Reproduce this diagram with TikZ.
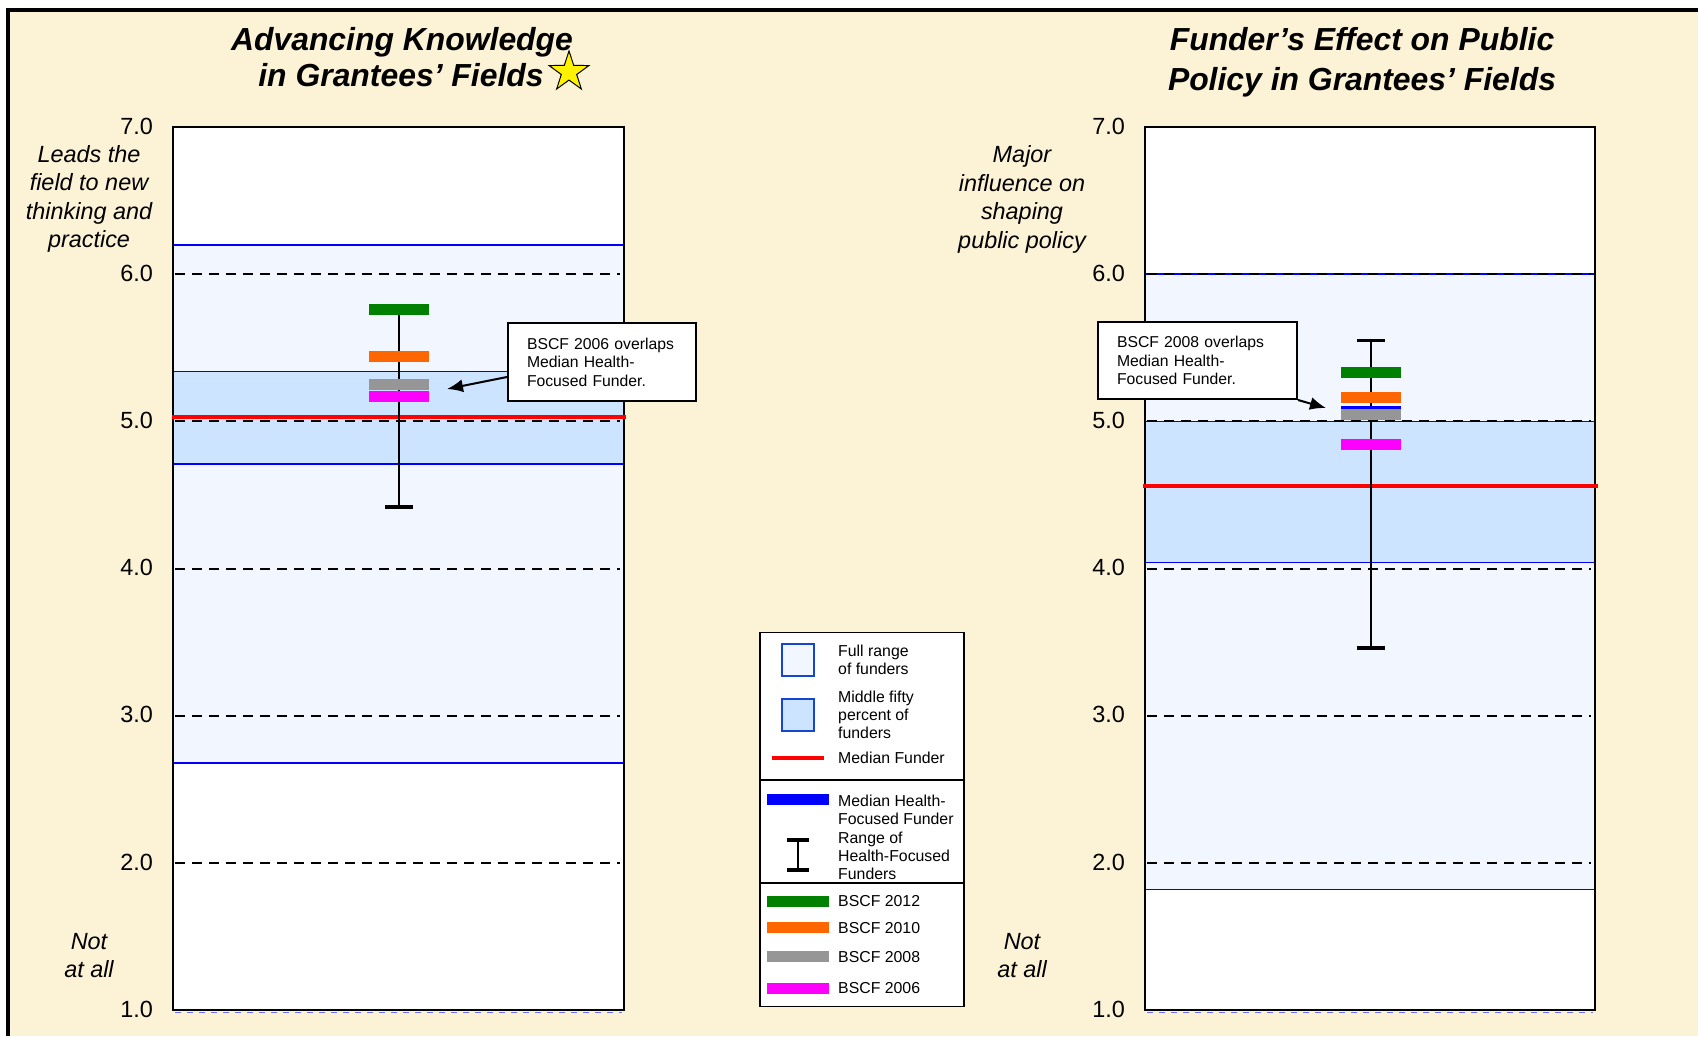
\documentclass[tikz,border=0pt]{standalone}
\usepackage{fontspec}
\setmainfont{Liberation Sans}
\usetikzlibrary{shapes.geometric,arrows.meta}
\definecolor{cream}{RGB}{252,242,214}
\definecolor{fullband}{RGB}{242,247,255}
\definecolor{midband}{RGB}{204,228,255}
\definecolor{bscfgreen}{RGB}{0,128,0}
\definecolor{bscforange}{RGB}{255,102,0}
\definecolor{bscfgray}{RGB}{150,150,150}
\definecolor{bscfmagenta}{RGB}{255,0,255}
\definecolor{legblue}{RGB}{20,70,210}
\definecolor{dashblue}{RGB}{110,110,255}
% score value -> vertical position (7.0 at top, 1.0 at bottom)
\newcommand{\vy}[1]{(127+(7-(#1))*147.2)}
\begin{document}
\begin{tikzpicture}[x=1bp,y=-1bp,
  ticklabel/.style={anchor=east, inner sep=0, font=\fontsize{23.5}{28}\selectfont},
  % multi-line notes are placed by the baseline of their last line
  sidenote/.style={anchor=base, inner sep=0, align=center, font=\fontsize{23.5}{28.5}\selectfont\itshape},
  charttitle/.style={anchor=base, inner sep=0, font=\fontsize{32}{38}\selectfont\bfseries\itshape},
  plotframe/.style={draw=black, line width=2.5},
  gridline/.style={line width=2, dash pattern=on 10bp off 7bp},
  bottomdash/.style={dashblue, line width=1.5, dash pattern=on 6bp off 6bp},
  bandline/.style={blue, line width=1.5},
  medianline/.style={red, line width=4.5},
  errbar/.style={line width=2},
  errcap/.style={line width=3.5},
  scorebar/.style={minimum width=60bp, minimum height=11bp, inner sep=0, draw=none},
  callout/.style={draw=black, fill=white, line width=2, align=left, inner xsep=19bp, inner ysep=0, font=\fontsize{15.8}{18.6}\selectfont},
  pointer/.style={line width=2, -{Latex[length=16bp,width=13bp]}},
  legtext/.style={anchor=base west, inner sep=0, align=left, font=\fontsize{15.9}{18}\selectfont},
  legsquare/.style={draw=legblue, line width=1.8, minimum size=32bp, inner sep=0},
  legbar/.style={minimum width=62bp, minimum height=11bp, inner sep=0, draw=none},
]
\useasboundingbox (0,0) rectangle (1698,1036);
% page background and frame
\fill[white] (0,0) rectangle (1698,1036);
\fill[cream] (8,10) rectangle (1698,1036);
\draw[line width=5] (8,1036) -- (8,10) -- (1698,10);

% ---------------- titles ----------------
\node[charttitle] (t1a) at (402,50) {Advancing Knowledge};
\node[charttitle] (t1b) at (401,86) {in Grantees’ Fields};
\node[star, star points=5, star point ratio=2.6, minimum size=42bp, inner sep=0,
      fill=yellow, draw=black, line width=1] (star) at (569,72) {};
\node[charttitle] (t2a) at (1362,50) {Funder’s Effect on Public};
\node[charttitle] (t2b) at (1362,90) {Policy in Grantees’ Fields};

% ---------------- left panel ----------------
\fill[white] (173,{\vy{7}}) rectangle (624,{\vy{1}});
\fill[fullband] (173,{\vy{6.2}}) rectangle (624,{\vy{2.68}});
\fill[midband] (173,{\vy{5.34}}) rectangle (624,{\vy{4.71}});
\foreach \v in {6.2,5.34,4.71,2.68}
  \draw[bandline] (173,{\vy{\v}}) -- (624,{\vy{\v}});
\foreach \v in {2,...,6}
  \draw[gridline] (175,{\vy{\v}}) -- (620,{\vy{\v}});
\draw[bottomdash] (175,{\vy{1}+2.5}) -- (622,{\vy{1}+2.5});
\draw[plotframe] (173,{\vy{7}}) rectangle (624,{\vy{1}});
\draw[medianline] (172,{\vy{5.03}}) -- (626,{\vy{5.03}});
\foreach \v in {1,...,7}
  \node[ticklabel] (lt\v) at (153,{\vy{\v}-1}) {\v.0};
\node[sidenote] (ltop) at (89,247.5) {Leads the\\field to new\\thinking and\\practice};
\node[sidenote] (lbot) at (89,977.5) {Not\\at all};

% health-focused range and scores
\coordinate (lhi) at (399,{\vy{5.76}});
\coordinate (llo) at (399,{\vy{4.42}});
\draw[errbar] (lhi) -- (llo);
\draw[errcap] ([xshift=-14bp]lhi) -- ([xshift=14bp]lhi);
\draw[errcap] ([xshift=-14bp]llo) -- ([xshift=14bp]llo);
\node[scorebar, fill=blue] (lmed) at (399,{\vy{5.17}}) {};
\node[scorebar, fill=bscfgreen] (l12) at (399,{\vy{5.76}}) {};
\node[scorebar, fill=bscforange] (l10) at (399,{\vy{5.44}}) {};
\node[scorebar, fill=bscfgray] (l08) at (399,{\vy{5.25}}) {};
\node[scorebar, fill=bscfmagenta] (l06) at (399,{\vy{5.17}}) {};

\node[callout, text width=150bp, minimum height=78bp] (lnote) at (602,362)
  {BSCF 2006 overlaps\\Median Health-\\Focused Funder.};
\coordinate (ltip) at (447,389);
\draw[pointer] ([yshift=-15bp]lnote.west) -- (ltip);

% ---------------- right panel ----------------
\fill[white] (1145,{\vy{7}}) rectangle (1595,{\vy{1}});
\fill[fullband] (1145,{\vy{6.0}}) rectangle (1595,{\vy{1.82}});
\fill[midband] (1145,{\vy{5.0}}) rectangle (1595,{\vy{4.04}});
\foreach \v in {6.0,5.0,4.04,1.82}
  \draw[bandline] (1145,{\vy{\v}}) -- (1595,{\vy{\v}});
\foreach \v in {2,...,6}
  \draw[gridline] (1147,{\vy{\v}}) -- (1591,{\vy{\v}});
\draw[bottomdash] (1147,{\vy{1}+2.5}) -- (1593,{\vy{1}+2.5});
\draw[plotframe] (1145,{\vy{7}}) rectangle (1595,{\vy{1}});
\draw[medianline] (1143,{\vy{4.56}}) -- (1598,{\vy{4.56}});
\foreach \v in {1,...,7}
  \node[ticklabel] (rt\v) at (1125,{\vy{\v}-1}) {\v.0};
\node[sidenote] (rtop) at (1022,248) {Major\\influence on\\shaping\\public policy};
\node[sidenote] (rbot) at (1022,977.5) {Not\\at all};

\coordinate (rhi) at (1371,{\vy{5.55}});
\coordinate (rlo) at (1371,{\vy{3.46}});
\draw[errbar] (rhi) -- (rlo);
\draw[errcap] ([xshift=-14bp]rhi) -- ([xshift=14bp]rhi);
\draw[errcap] ([xshift=-14bp]rlo) -- ([xshift=14bp]rlo);
\node[scorebar, fill=bscfgreen] (r12) at (1371,{\vy{5.33}}) {};
\node[scorebar, fill=bscforange] (r10) at (1371,{\vy{5.16}}) {};
\node[scorebar, fill=blue] (rmed) at (1371,{\vy{5.07}}) {};
\node[scorebar, fill=bscfgray] (r08) at (1371,{\vy{5.05}}) {};
\node[scorebar, fill=bscfmagenta] (r06) at (1371,{\vy{4.84}}) {};

\node[callout, text width=161bp, minimum height=77bp] (rnote) at (1197.5,360.5)
  {BSCF 2008 overlaps\\Median Health-\\Focused Funder.};
\coordinate (rtip) at (1326,408);
\draw[pointer] (rnote.south east) -- (rtip);

% ---------------- legend ----------------
\node[draw=black, line width=1.5, fill=white, minimum width=204bp, minimum height=374bp, inner sep=0]
  (leg) at (862,819.5) {};
\draw[line width=1.5] (leg.west |- 0,780) -- (leg.east |- 0,780);
\draw[line width=1.5] (leg.west |- 0,883) -- (leg.east |- 0,883);

\node[legsquare, fill=fullband] (kfull) at (798,660) {};
\node[legtext] (kfullt) at (838,674) {Full range\\of funders};
\node[legsquare, fill=midband] (kmid) at (798,715) {};
\node[legtext] (kmidt) at (838,738) {Middle fifty\\percent of\\funders};
\draw[medianline] (772,758) -- (824,758);
\node[legtext] (kmedt) at (838,763) {Median Funder};

\node[legbar, fill=blue] (khf) at (798,799.5) {};
\node[legtext] (khft) at (838,824) {Median Health-\\Focused Funder};
\coordinate (kih) at (798,840);
\coordinate (kil) at (798,870);
\draw[errbar] (kih) -- (kil);
\draw[errcap] ([xshift=-11bp]kih) -- ([xshift=11bp]kih);
\draw[errcap] ([xshift=-11bp]kil) -- ([xshift=11bp]kil);
\node[legtext] (kit) at (838,879) {Range of\\Health-Focused\\Funders};

\node[legbar, fill=bscfgreen] (k12) at (798,901) {};
\node[legtext] (k12t) at (838,906) {BSCF 2012};
\node[legbar, fill=bscforange] (k10) at (798,927.5) {};
\node[legtext] (k10t) at (838,933) {BSCF 2010};
\node[legbar, fill=bscfgray] (k08) at (798,956.5) {};
\node[legtext] (k08t) at (838,962) {BSCF 2008};
\node[legbar, fill=bscfmagenta] (k06) at (798,988.5) {};
\node[legtext] (k06t) at (838,993) {BSCF 2006};
\end{tikzpicture}
\end{document}
